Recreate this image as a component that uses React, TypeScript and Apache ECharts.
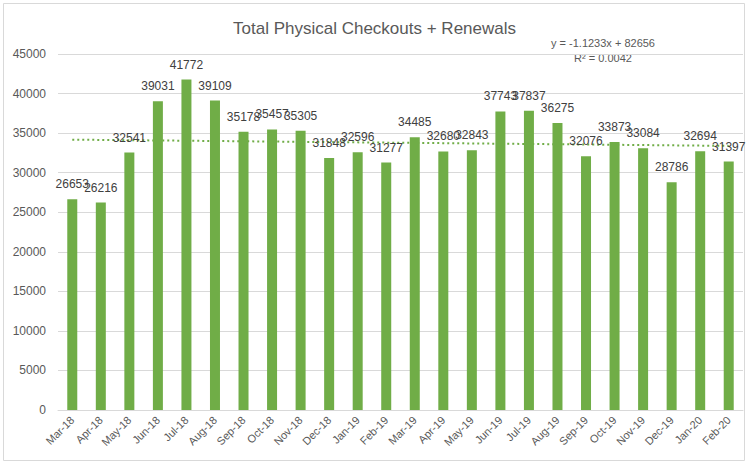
import React, { useEffect, useRef } from "react";
import * as echarts from "echarts";

const categories = [
  "Mar-18", "Apr-18", "May-18", "Jun-18", "Jul-18", "Aug-18", "Sep-18", "Oct-18",
  "Nov-18", "Dec-18", "Jan-19", "Feb-19", "Mar-19", "Apr-19", "May-19", "Jun-19",
  "Jul-19", "Aug-19", "Sep-19", "Oct-19", "Nov-19", "Dec-19", "Jan-20", "Feb-20",
];
const checkouts = [
  26653, 26216, 32541, 39031, 41772, 39109, 35178, 35457, 35305, 31848, 32596, 31277,
  34485, 32680, 32843, 37743, 37837, 36275, 32076, 33873, 33084, 28786, 32694, 31397,
];
// Excel date serials of the first day of each month (trendline x values)
const dateSerials = [
  43160, 43191, 43221, 43252, 43282, 43313, 43344, 43374, 43405, 43435, 43466, 43497,
  43525, 43556, 43586, 43617, 43647, 43678, 43709, 43739, 43770, 43800, 43831, 43862,
];
const trendSlope = -1.1233;
const trendIntercept = 82656;
const equationText = "y = -1.1233x + 82656";
const r2Text = "R² = 0.0042";
const titleText = "Total Physical Checkouts + Renewals";

export default function App() {
  const ref = useRef<HTMLDivElement>(null);
  useEffect(() => {
    document.body.style.margin = "0";
    const chart = echarts.init(ref.current!, null, { renderer: "svg" });
    const trend = dateSerials.map((d) => trendIntercept + trendSlope * d);
    const font = "'Liberation Sans', Arial, sans-serif";
    chart.setOption({
      animation: false,
      textStyle: { fontFamily: font },
      title: {
        text: titleText,
        left: "center",
        top: 15,
        textStyle: { fontSize: 17, fontWeight: "normal", color: "#595959", fontFamily: font },
      },
      graphic: [
        {
          type: "rect",
          shape: { x: 3.5, y: 3.5, width: 741, height: 457 },
          style: { fill: "none", stroke: "#D9D9D9", lineWidth: 1 },
          silent: true,
        },
        {
          type: "text",
          x: 603,
          y: 43,
          style: { text: equationText, fontSize: 11, fill: "#595959", align: "center", verticalAlign: "middle", fontFamily: font },
        },
        {
          type: "text",
          x: 603,
          y: 58,
          style: { text: r2Text, fontSize: 11, fill: "#595959", align: "center", verticalAlign: "middle", fontFamily: font },
        },
      ],
      grid: { left: 58, right: 6, top: 54, bottom: 55, containLabel: false },
      xAxis: {
        type: "category",
        data: categories,
        axisLine: { lineStyle: { color: "#D9D9D9" } },
        axisTick: { show: false },
        axisLabel: { rotate: 45, color: "#595959", fontSize: 11, margin: 8, interval: 0 },
      },
      yAxis: {
        type: "value",
        min: 0,
        max: 45000,
        interval: 5000,
        axisLine: { show: false },
        axisTick: { show: false },
        splitLine: { lineStyle: { color: "#D9D9D9" } },
        axisLabel: { color: "#595959", fontSize: 12, margin: 12, formatter: (v: number) => String(v) },
      },
      series: [
        {
          type: "bar",
          data: checkouts,
          barWidth: 10,
          itemStyle: { color: "#70AD47" },
          label: { show: true, position: "top", distance: 9, color: "#404040", fontSize: 12 },
        },
        {
          type: "line",
          data: trend,
          symbol: "none",
          lineStyle: { color: "#70AD47", width: 2, type: [2, 3] },
          z: 1,
        },
      ],
    });
    return () => chart.dispose();
  }, []);
  return <div ref={ref} style={{ width: 749, height: 465 }} />;
}
